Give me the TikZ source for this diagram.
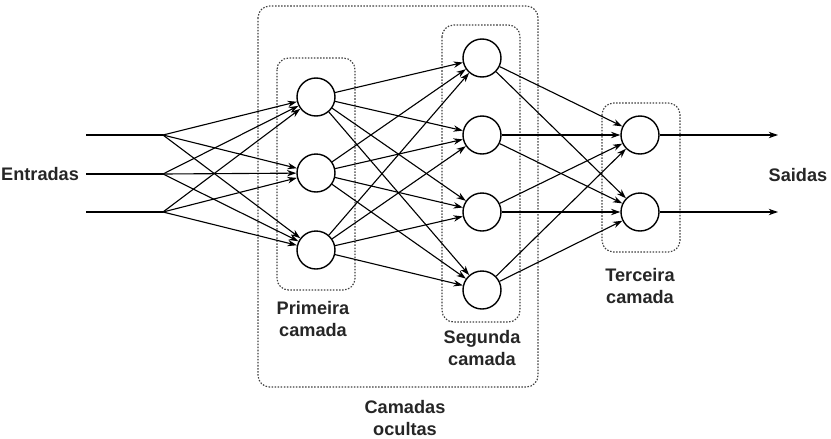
\documentclass[tikz,border=0pt]{standalone}
\usepackage{fontspec}
\setmainfont{Liberation Sans}
\usetikzlibrary{arrows.meta,positioning}

\begin{document}
\begin{tikzpicture}[x=0.03cm, y=-0.03cm,
    neuron/.style={circle, draw, line width=1.2pt, minimum size=1.14cm, inner sep=0pt},
    conn/.style={line width=0.95pt, -{Stealth[length=8pt,width=5.5pt]}},
    grp/.style={draw=black!75, line width=1pt, dash pattern=on 1.3pt off 1.3pt, rounded corners=10pt},
    lbl/.style={align=center, font=\fontsize{15.5}{19}\selectfont\bfseries, text=black!85}
]
    \useasboundingbox (0,0) rectangle (831,438);

    % dotted groups
    \draw[grp] (258,6) rectangle (538,387);
    \draw[grp] (277,58) rectangle (355,290);
    \draw[grp] (442,25) rectangle (520,322);
    \draw[grp] (602,103) rectangle (680,252);

    % inputs
    \coordinate (in1) at (86,135);
    \coordinate (in2) at (86,174);
    \coordinate (in3) at (86,212);
    \coordinate (f1) at (163,135);
    \coordinate (f2) at (163,174);
    \coordinate (f3) at (163,212);

    % neurons
    \node[neuron] (a1) at (316,97) {};
    \node[neuron] (a2) at (316,173) {};
    \node[neuron] (a3) at (316,250) {};
    \node[neuron] (b1) at (482,58) {};
    \node[neuron] (b2) at (482,135) {};
    \node[neuron] (b3) at (482,212) {};
    \node[neuron] (b4) at (482,290) {};
    \node[neuron] (c1) at (640,135) {};
    \node[neuron] (c2) at (640,212) {};

    % outputs
    \coordinate (out1) at (778,135);
    \coordinate (out2) at (778,212);

    % connections
    \foreach \i in {1,2,3} {
        \draw[line width=0.95pt] (in\i) -- (f\i);
        \foreach \j in {1,2,3}
            \draw[conn] (f\i) -- (a\j);
    }
    \foreach \i in {1,2,3}
        \foreach \j in {1,2,3,4}
            \draw[conn] (a\i) -- (b\j);
    \foreach \i in {1,2,3,4}
        \foreach \j in {1,2}
            \draw[conn] (b\i) -- (c\j);
    \draw[conn] (c1) -- (out1);
    \draw[conn] (c2) -- (out2);

    % labels
    \node[lbl, anchor=west, inner xsep=0pt] (ent) at (1,174) {Entradas};
    \node[lbl] (sai) at (798,175) {Saidas};
    \node[lbl] (prim) at (313,319) {Primeira\\camada};
    \node[lbl] (seg) at (482,348) {Segunda\\camada};
    \node[lbl] (ter) at (640,286) {Terceira\\camada};
    \node[lbl] (ocu) at (405,418) {Camadas\\ocultas};
\end{tikzpicture}
\end{document}
